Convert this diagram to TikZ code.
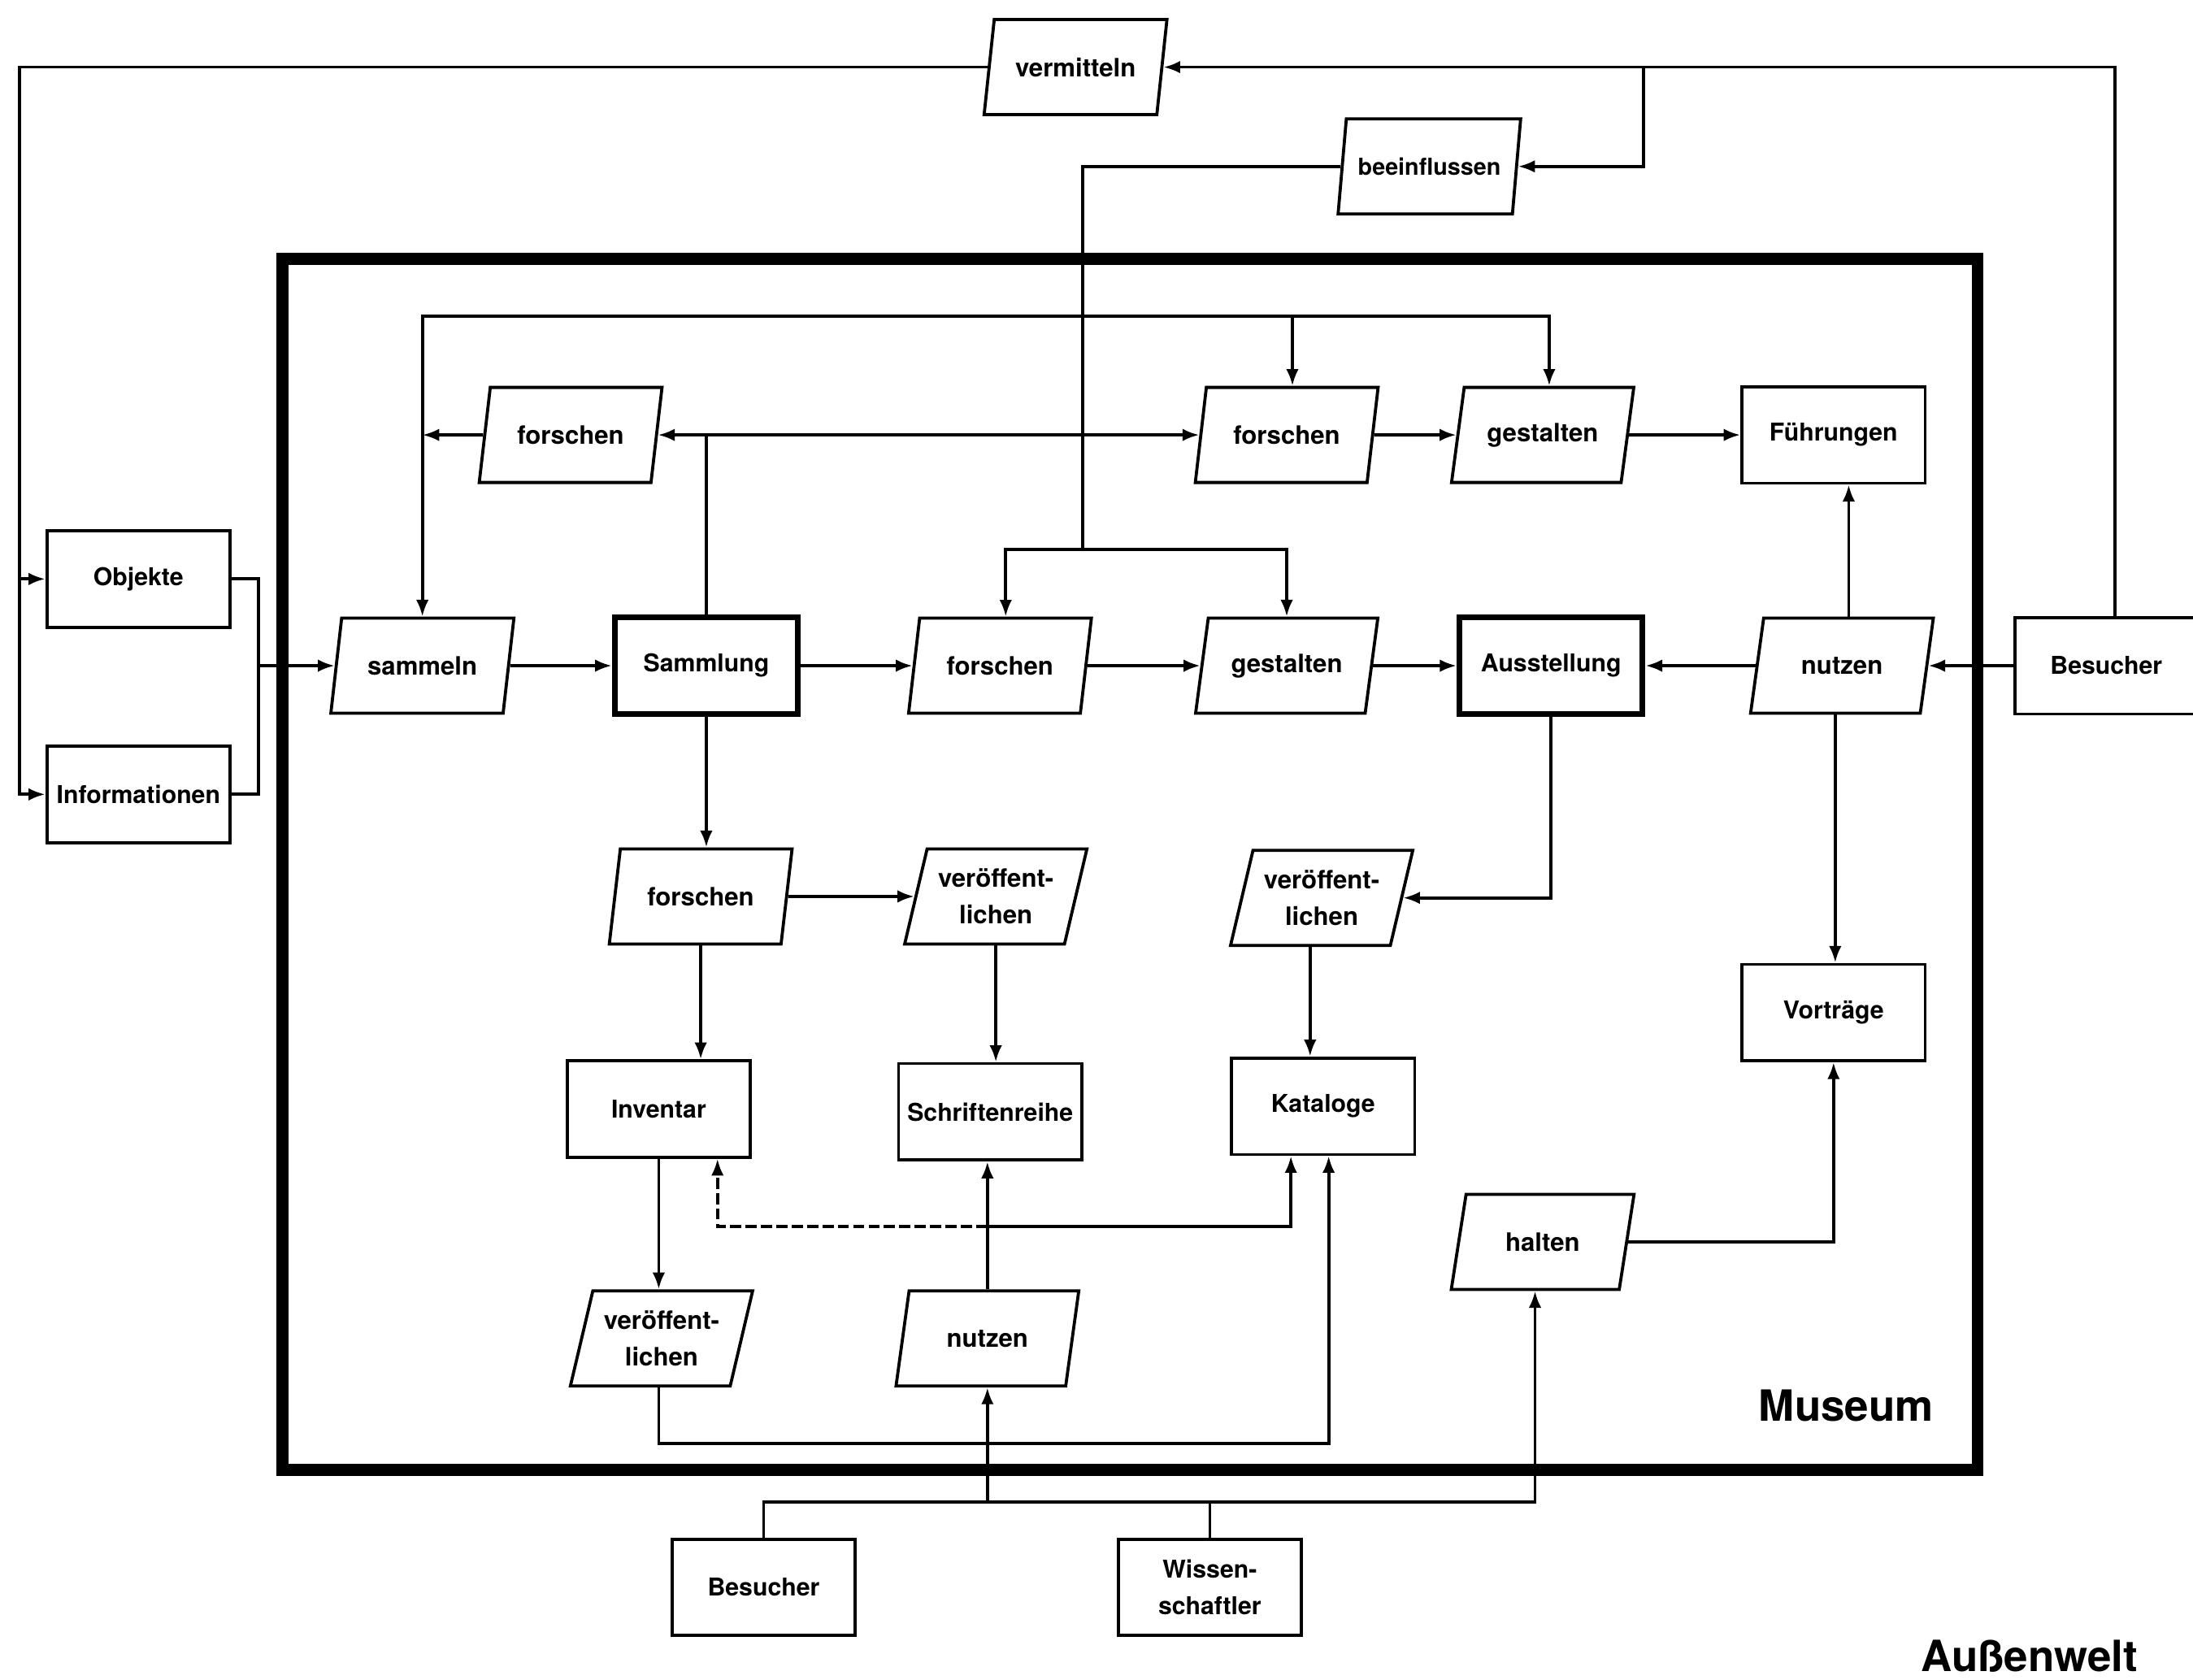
\documentclass[tikz,border=0pt]{standalone}
\usepackage{fontspec}
\setmainfont{TeX Gyre Heros}
\usetikzlibrary{arrows.meta,shapes.geometric}

\begin{document}
\begin{tikzpicture}[
        x = {(0.2mm,0mm)},
        y = {(0mm,-0.2mm)},
        line width = 1.25pt,
        >= {Latex[length=2.4mm,width=1.8mm]},
        box/.style = {draw, minimum width=26.2mm, minimum height=13.8mm, align=center, inner sep=1pt, font=\fontsize{10}{15}\selectfont\bfseries},
        main/.style = {box, line width=2.3pt},
        act/.style = {draw, trapezium, trapezium left angle=72, trapezium right angle=108, trapezium stretches=true, minimum width=26.2mm, minimum height=13.6mm, align=center, inner sep=1pt, font=\fontsize{10.3}{15}\selectfont\bfseries},
        title/.style = {font=\fontsize{17.5}{20}\selectfont\bfseries}]
      \useasboundingbox (0,0) rectangle (1568,1201);
      \draw [line width=4.8pt] (202,185) rectangle (1414,1051);
      \node [title] (museum) at (1320,1005) {Museum};
      \node [title] (aussen) at (1451,1184) {Außenwelt};

      \node [act] (verm) at (769,48) {vermitteln};
      \node [act, font=\fontsize{9.5}{11}\selectfont\bfseries] (bein) at (1022,119) {beeinflussen};
      \node [box] (obj) at (99,414) {Objekte};
      \node [box] (info) at (99,568) {Informationen};
      \node [act] (fa) at (408,311) {forschen};
      \node [act] (fb) at (920,311) {forschen};
      \node [act] (ga) at (1103,311) {gestalten};
      \node [box] (fue) at (1311,311) {Führungen};
      \node [act] (samm) at (302,476) {sammeln};
      \node [main] (coll) at (505,476) {Sammlung};
      \node [act] (fc) at (715,476) {forschen};
      \node [act] (gb) at (920,476) {gestalten};
      \node [main] (exh) at (1109,476) {Ausstellung};
      \node [act] (na) at (1317,476) {nutzen};
      \node [box] (vis) at (1506,476) {Besucher};
      \node [act] (fd) at (501,641) {forschen};
      \node [act] (va) at (712,641) {veröffent-\\lichen};
      \node [act] (vc) at (945,642) {veröffent-\\lichen};
      \node [box] (vor) at (1311,724) {Vorträge};
      \node [box] (inv) at (471,793) {Inventar};
      \node [box] (sr) at (708,795) {Schriftenreihe};
      \node [box] (kat) at (946,791) {Kataloge};
      \node [act] (ha) at (1103,888) {halten};
      \node [act] (vb) at (473,957) {veröffent-\\lichen};
      \node [act] (nb) at (706,957) {nutzen};
      \node [box] (bes) at (546,1135) {Besucher};
      \node [box] (wis) at (865,1135) {Wissen-\\schaftler};

      \coordinate (jv) at (1175,48);
      \coordinate (jt) at (774,226);
      \coordinate (jm) at (774,393);
      \coordinate (jd) at (706,877);
      \coordinate (yk) at (0,1032);
      \coordinate (yb) at (0,1074);

      \draw [->] ([xshift=1.2mm]vis.north) |- (verm.east);
      \draw [->] (jv) |- (bein);
      \draw [->] (verm.west) -| (14,568) -- (info);
      \draw [->] (14,414) -- (obj);
      \draw (obj.east) -| (185,568) -- (info.east);
      \draw [->] (185,476) -- (samm);
      \draw (bein.west) -| (jm);
      \draw [->] (jt) -| (samm.north);
      \draw [->] (jt) -| (fb.top side);
      \draw [->] (jt) -| (ga.top side);
      \draw [->] (jm) -| (fc.top side);
      \draw [->] (jm) -| (gb.north);
      \draw [->] (coll.north) |- (fa);
      \draw [->] (coll.north) |- (fb);
      \draw [->] (fa) -- (samm.north |- fa);
      \draw [->] (fb) -- (ga);
      \draw [->] (ga) -- (fue);
      \draw [->] (samm) -- (coll);
      \draw [->] (coll) -- (fc);
      \draw [->] (fc) -- (gb);
      \draw [->] (gb) -- (exh);
      \draw [->] (na) -- (exh);
      \draw [->] (vis) -- (na);
      \draw [->] (na.top side) -- (na.top side |- fue.south);
      \draw [->] (na.bottom side) -- (na.bottom side |- vor.north);
      \draw [->] (exh.south) |- (vc);
      \draw [->] (coll.south) -- (coll.south |- fd.north);
      \draw [->] (fd) -- (va);
      \draw [->] (fd.south) -- (fd.south |- inv.north);
      \draw [->] (inv.south) -- (inv.south |- vb.north);
      \draw [->] (va.south) -- (va.south |- sr.north);
      \draw [->] (vc.bottom side) -- (vc.bottom side |- kat.north);
      \draw [->] (nb.north -| nb) -- (sr.south -| nb);
      \draw [->] (jd) -| ([xshift=-4.6mm]kat.south);
      \draw [->, dash pattern=on 1.6mm off 0.6mm] (jd) -| ([xshift=8.4mm]inv.south);
      \draw [->] (vb.south -| inv) -- (inv |- yk) -| ([xshift=0.8mm]kat.south);
      \draw [->] (bes.north) |- (ha.bottom side |- yb) -- (ha.bottom side);
      \draw (wis.north) -- (wis.north |- yb);
      \draw [->] (nb |- yb) -- (nb.south -| nb);
      \draw [->] (ha) -| (vor.south);
    \end{tikzpicture}
\end{document}
